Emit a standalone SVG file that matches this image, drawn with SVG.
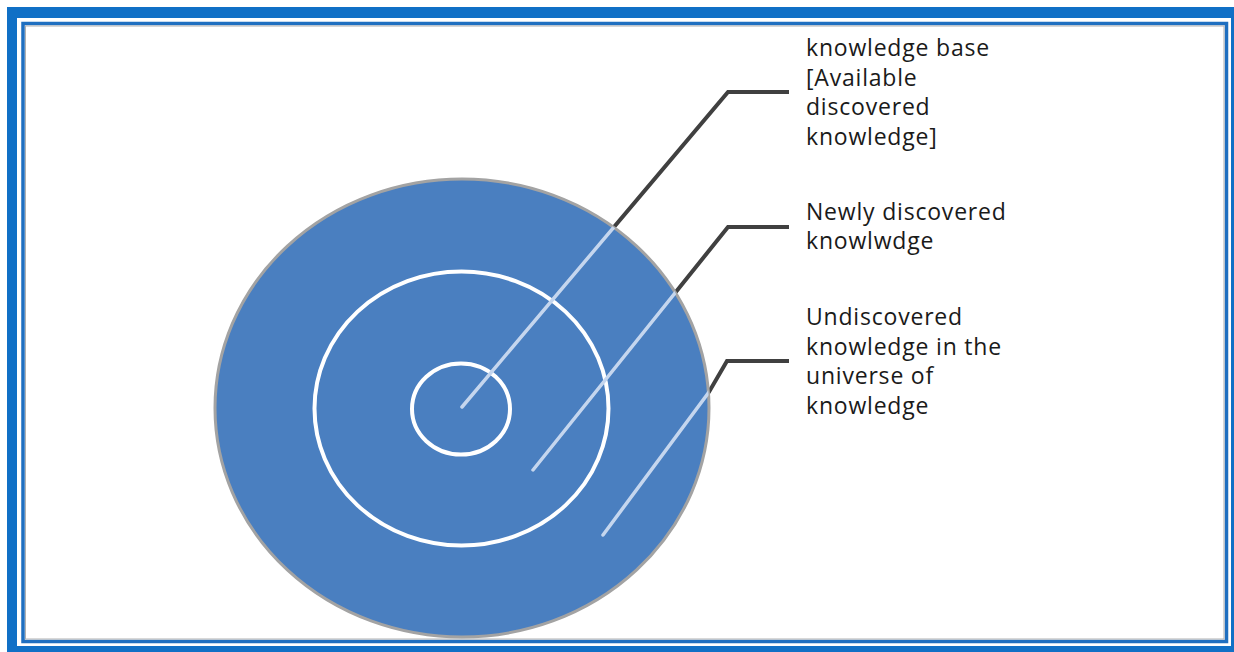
<svg xmlns="http://www.w3.org/2000/svg" width="1234" height="652" viewBox="0 0 1234 652">
<style>
.lbl{font-family:"Open Sans","Liberation Sans",sans-serif;font-size:23px;letter-spacing:0.8px;fill:#1a1a1a}
.dark{fill:none;stroke:#404040;stroke-width:4;stroke-linejoin:miter}
.light{fill:none;stroke:#c5d6ee;stroke-width:3.5;stroke-linecap:round}
.ring{fill:none;stroke:#ffffff;stroke-width:4}
</style>
<defs>
<clipPath id="disc"><ellipse cx="462" cy="408" rx="247" ry="229"/></clipPath>
</defs>
<rect x="0" y="0" width="1234" height="652" fill="#ffffff"/>
<g id="frame">
<rect x="7" y="7" width="1227" height="645" fill="#1070c6"/>
<rect x="17" y="18" width="1214" height="628" fill="#ffffff"/>
<rect x="23" y="23.5" width="1203.5" height="618" fill="none" stroke="#1f6fc0" stroke-width="3.5"/>
<rect x="25.5" y="26" width="1198.5" height="613" fill="none" stroke="#b0b0b0" stroke-width="1"/>
</g>
<g id="connectors-dark">
<polyline class="dark" points="462,407 728,92 789,92"/>
<polyline class="dark" points="533,470 728,227 789,227"/>
<polyline class="dark" points="603,535 709,392 727,361 789,361"/>
</g>
<g id="universe">
<ellipse cx="462" cy="408" rx="247" ry="229" fill="#4a7fc0" stroke="#a3a3a3" stroke-width="3"/>
</g>
<g id="newly">
<ellipse class="ring" cx="461.5" cy="408.5" rx="147" ry="137"/>
</g>
<g id="base">
<ellipse class="ring" cx="461" cy="409" rx="49" ry="45.5"/>
</g>
<g id="connectors" clip-path="url(#disc)">
<polyline class="light" points="462,407 728,92"/>
<polyline class="light" points="533,470 728,227"/>
<polyline class="light" points="603,535 709,392 727,361"/>
</g>
<g id="label-base">
<text class="lbl" x="806" y="56">knowledge base</text>
<text class="lbl" x="806" y="85.5">[Available</text>
<text class="lbl" x="806" y="115">discovered</text>
<text class="lbl" x="806" y="144.5">knowledge]</text>
</g>
<g id="label-newly">
<text class="lbl" x="806" y="219.5">Newly discovered</text>
<text class="lbl" x="806" y="249">knowlwdge</text>
</g>
<g id="label-undiscovered">
<text class="lbl" x="806" y="325">Undiscovered</text>
<text class="lbl" x="806" y="354.5">knowledge in the</text>
<text class="lbl" x="806" y="384">universe of</text>
<text class="lbl" x="806" y="413.5">knowledge</text>
</g>
</svg>
